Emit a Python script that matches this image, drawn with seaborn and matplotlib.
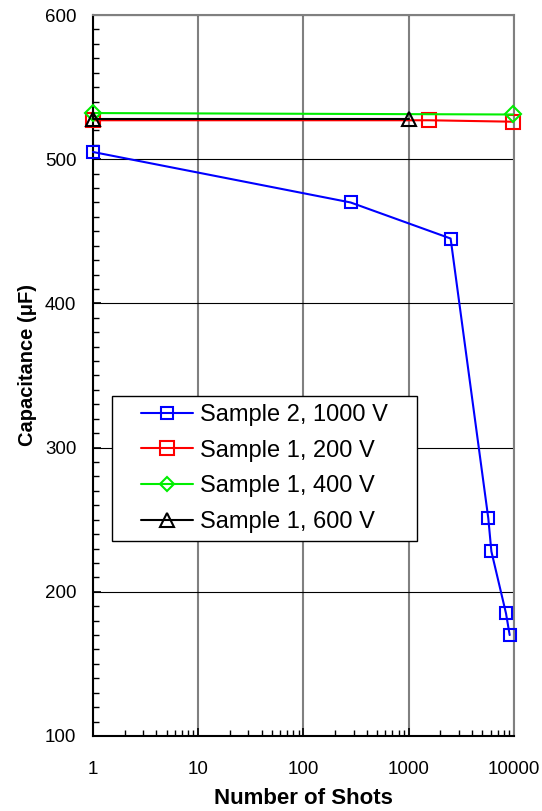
import matplotlib
matplotlib.use("Agg")
import matplotlib.pyplot as plt
import matplotlib.ticker as mticker
from matplotlib.patches import Rectangle
import seaborn as sns
import pandas as pd

# data
s2_1000v_shots = [1, 280, 2500, 5700, 6100, 8400, 9100]
s2_1000v_cap = [505, 470, 445, 251, 228, 185, 170]
s1_200v_shots = [1, 1550, 9800]
s1_200v_cap = [527, 527, 526]
s1_400v_shots = [1, 9800]
s1_400v_cap = [532, 531]
s1_600v_shots = [1, 1000]
s1_600v_cap = [528, 528]

series = [
    ("Sample 2, 1000 V", s2_1000v_shots, s2_1000v_cap, "#0000FF", "s", 9),
    ("Sample 1, 200 V", s1_200v_shots, s1_200v_cap, "#FF0000", "s", 10),
    ("Sample 1, 400 V", s1_400v_shots, s1_400v_cap, "#00EE00", "D", 8),
    ("Sample 1, 600 V", s1_600v_shots, s1_600v_cap, "#000000", "^", 10),
]

sns.set_style("white")
plt.rcParams['font.family'] = ['Liberation Sans', 'DejaVu Sans']
plt.rcParams['text.color'] = 'black'
plt.rcParams['axes.labelcolor'] = 'black'

fig = plt.figure(figsize=(5.42, 8.11), dpi=100)
ax = fig.add_axes([0.1716, 0.0925, 0.7767, 0.889])

for name, xs, ys, col, mk, ms in series:
    df = pd.DataFrame({'shots': xs, 'cap': ys})
    sns.lineplot(data=df, x='shots', y='cap', ax=ax, color=col, marker=mk,
                 markersize=ms, markerfacecolor='none', markeredgecolor=col,
                 markeredgewidth=1.5, linewidth=1.5, label=name, zorder=3,
                 clip_on=False)

ax.set_xscale('log')
ax.set_xlim(1, 10000)
ax.set_ylim(100, 600)
ax.set_xticks([1, 10, 100, 1000, 10000])
ax.xaxis.set_major_formatter(mticker.FuncFormatter(lambda v, p: f"{int(round(v))}"))
ax.xaxis.set_minor_locator(mticker.LogLocator(base=10, subs=range(2, 10)))
ax.xaxis.set_minor_formatter(mticker.NullFormatter())
ax.set_yticks([100, 200, 300, 400, 500, 600])
ax.yaxis.set_minor_locator(mticker.MultipleLocator(10))

ax.tick_params(axis='both', which='both', direction='in', labelsize=13.5, colors='black')
ax.tick_params(axis='both', which='major', length=6, width=1.2)
ax.tick_params(axis='both', which='minor', length=4, width=1)
ax.tick_params(axis='x', which='major', pad=18)
ax.tick_params(axis='y', which='major', pad=12)
ax.tick_params(axis='x', which='both', top=False, bottom=True)
ax.tick_params(axis='y', which='both', left=True, right=False)

ax.grid(True, axis='x', which='major', color='#808080', linewidth=1.5)
ax.grid(True, axis='y', which='major', color='black', linewidth=0.8)
ax.set_axisbelow(True)

for side in ['top', 'right']:
    ax.spines[side].set_color('#808080')
    ax.spines[side].set_linewidth(1.5)
for side in ['left', 'bottom']:
    ax.spines[side].set_color('black')
    ax.spines[side].set_linewidth(1.5)

ax.set_xlabel('Number of Shots', fontsize=16, fontweight='bold')
ax.set_ylabel('Capacitance (\u03bcF)', fontsize=14.5, fontweight='bold')
ax.xaxis.set_label_coords(0.5, -0.072)
ax.yaxis.set_label_coords(-0.133, 0.5146)

# legend: frame drawn separately so the entries can sit further in (Excel style)
ax.add_patch(Rectangle((0.0451, 0.2705), 0.7245, 0.2011, transform=ax.transAxes,
                       facecolor='white', edgecolor='black', linewidth=1.0,
                       zorder=4, clip_on=False))
leg = ax.legend(loc='upper left', bbox_to_anchor=(0.114, 0.4605), frameon=False,
                fontsize=17, handlelength=2.2, borderpad=0, borderaxespad=0,
                labelspacing=0.58, handletextpad=0.3, markerscale=0.95)
leg.set_zorder(5)

plt.savefig('out.png', dpi=100)
